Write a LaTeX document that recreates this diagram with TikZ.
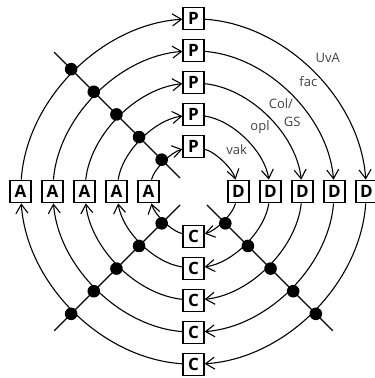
\documentclass[tikz,border=0pt]{standalone}
\usepackage{fontspec}
\setmainfont{Open Sans}
\usetikzlibrary{arrows.meta}

\begin{document}
\begin{tikzpicture}[x=1pt,y=1pt,line width=1.1pt,
		>={Straight Barb[length=9pt,width=12pt]},
		box/.style={draw,line width=1.3pt,minimum width=21pt,minimum height=22.5pt,inner sep=0pt,font=\fontsize{17}{17}\selectfont\bfseries},
		lbl/.style={inner sep=0pt,text=black!75,font=\fontsize{13}{18}\selectfont}]
			\useasboundingbox (-193.5,-186.5) rectangle (181.5,191.5);
			
			\draw (135:19) -- (135:197);
			\draw (225:19) -- (225:197);
			\draw (315:19) -- (315:197);
			
			\node[box] (P1) at (0,45) {P};
			\node[box] (P2) at (0,77) {P};
			\node[box] (P3) at (0,109) {P};
			\node[box] (P4) at (0,141) {P};
			\node[box] (P5) at (0,173) {P};
			\node[box] (D1) at (45,0) {D};
			\node[box] (D2) at (77,0) {D};
			\node[box] (D3) at (109,0) {D};
			\node[box] (D4) at (141,0) {D};
			\node[box] (D5) at (173,0) {D};
			\node[box] (C1) at (0,-45) {C};
			\node[box] (C2) at (0,-77) {C};
			\node[box] (C3) at (0,-109) {C};
			\node[box] (C4) at (0,-141) {C};
			\node[box] (C5) at (0,-173) {C};
			\node[box] (A1) at (-45,0) {A};
			\node[box] (A2) at (-77,0) {A};
			\node[box] (A3) at (-109,0) {A};
			\node[box] (A4) at (-141,0) {A};
			\node[box] (A5) at (-173,0) {A};
			
			\draw[->] (P1) to[bend left=31,looseness=0.66] (D1);
			\draw[->] (D1) to[bend left=31,looseness=0.66] (C1);
			\draw[->] (C1) to[bend left=31,looseness=0.66] (A1);
			\draw[->] (A1) to[bend left=31,looseness=0.66] (P1);
			\draw[->] (P2) to[bend left=37,looseness=0.80] (D2);
			\draw[->] (D2) to[bend left=37,looseness=0.80] (C2);
			\draw[->] (C2) to[bend left=37,looseness=0.80] (A2);
			\draw[->] (A2) to[bend left=37,looseness=0.80] (P2);
			\draw[->] (P3) to[bend left=39,looseness=0.86] (D3);
			\draw[->] (D3) to[bend left=39,looseness=0.86] (C3);
			\draw[->] (C3) to[bend left=39,looseness=0.86] (A3);
			\draw[->] (A3) to[bend left=39,looseness=0.86] (P3);
			\draw[->] (P4) to[bend left=40.5,looseness=0.89] (D4);
			\draw[->] (D4) to[bend left=40.5,looseness=0.89] (C4);
			\draw[->] (C4) to[bend left=40.5,looseness=0.89] (A4);
			\draw[->] (A4) to[bend left=40.5,looseness=0.89] (P4);
			\draw[->] (P5) to[bend left=41.3,looseness=0.91] (D5);
			\draw[->] (D5) to[bend left=41.3,looseness=0.91] (C5);
			\draw[->] (C5) to[bend left=41.3,looseness=0.91] (A5);
			\draw[->] (A5) to[bend left=41.3,looseness=0.91] (P5);
			
			\fill (135:45) circle (6.3);
			\fill (135:77) circle (6.3);
			\fill (135:109) circle (6.3);
			\fill (135:141) circle (6.3);
			\fill (135:173) circle (6.3);
			\fill (225:45) circle (6.3);
			\fill (225:77) circle (6.3);
			\fill (225:109) circle (6.3);
			\fill (225:141) circle (6.3);
			\fill (225:173) circle (6.3);
			\fill (315:45) circle (6.3);
			\fill (315:77) circle (6.3);
			\fill (315:109) circle (6.3);
			\fill (315:141) circle (6.3);
			\fill (315:173) circle (6.3);
			
			\node[lbl] (vak) at (43.2,41.5) {vak};
			\node[lbl] (opl) at (66.5,64.5) {opl};
			\node[lbl,align=left,anchor=west] (colgs) at (74.8,79) {Col/\\\hspace*{15pt}GS};
			\node[lbl] (fac) at (114.8,109.5) {fac};
			\node[lbl] (uva) at (134.3,133.2) {UvA};
		\end{tikzpicture}
\end{document}
